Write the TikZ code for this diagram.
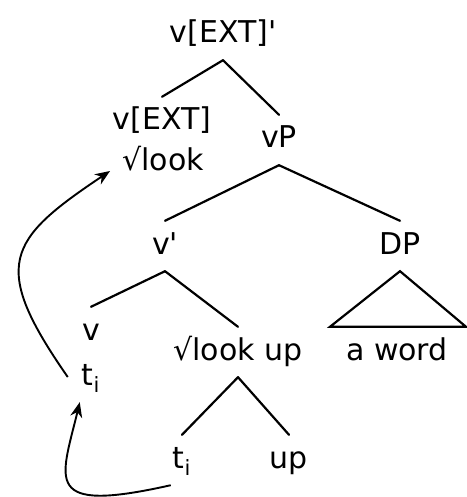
\documentclass[tikz,border=0pt]{standalone}
\usepackage{fontspec}
\setmainfont{DejaVu Sans}
\usetikzlibrary{calc, arrows.meta}
\tikzset{
    cat/.style={font=\fontsize{30}{36}\selectfont, anchor=base, inner xsep=2pt, inner ysep=11pt,
        text height=22pt, text depth=6pt},
    branch/.style={line width=2.2pt, line cap=round},
    move/.style={line width=1.9pt, -{Stealth[length=15pt, width=12pt]}},
    common settings/.style={x=1pt, y=-1pt}
}

\begin{document}
\begin{tikzpicture}[common settings]
    \useasboundingbox (0,0) rectangle (466,497);

    % Category labels (placed on their baselines)
    \node[cat] (top)    at (223,43)  {v[EXT]\textquotesingle};
    \node[cat] (vext)   at (162,130) {v[EXT]};
    \node[cat] (look)   at (163,171) {√look};
    \node[cat] (vP)     at (279,148) {vP};
    \node[cat] (vbar)   at (165,254) {v\textquotesingle};
    \node[cat] (dp)     at (400,254) {DP};
    \node[cat] (vlow)   at (91,340)  {v};
    \node[cat] (ti)     at (91,385)  {t\textsubscript{i}};
    \node[cat] (lookup) at (238,360) {√look up};
    \node[cat] (aword)  at (397,360) {a word};
    \node[cat] (tilow)  at (182,468) {t\textsubscript{i}};
    \node[cat] (up)     at (289,468) {up};

    % Branches
    \draw[branch] (top.south) -- (vext.north);
    \draw[branch] (top.south) -- (vP.north);
    \draw[branch] (vP.south) -- (vbar.north);
    \draw[branch] (vP.south) -- (dp.north);
    \draw[branch] (vbar.south) -- (vlow.north);
    \draw[branch] (vbar.south) -- (lookup.north);
    \draw[branch] (lookup.south) -- (tilow.north);
    \draw[branch] (lookup.south) -- (up.north);

    % Triangle over the DP
    \draw[branch, line join=miter] (dp.south) -- ([xshift=-14pt]aword.north west)
        -- ([xshift=16pt]aword.north east) -- cycle;

    % Head movement arrows
    \draw[move] ([xshift=-12pt]ti.west) .. controls +(-78,-112) and +(-103,69) .. ([xshift=-10pt]look.base west);
    \draw[move] (tilow.south west) .. controls +(-129,29) and +(-19,79) .. (ti.south west);

\end{tikzpicture}
\end{document}
